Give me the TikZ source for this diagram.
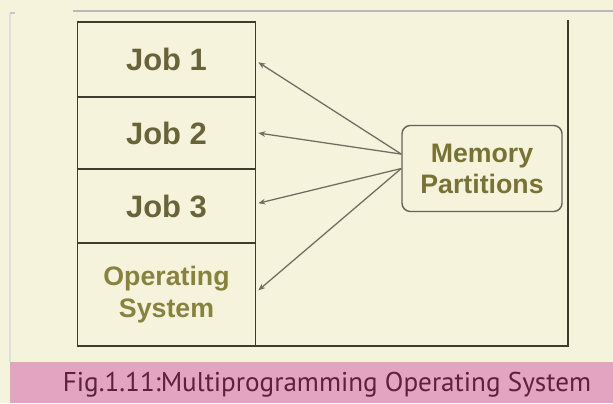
\documentclass[tikz,border=0pt]{standalone}
\usepackage{fontspec}
\setmainfont{Liberation Sans}
\newfontfamily\captionfont{PT Sans}
\usetikzlibrary{positioning,calc,arrows.meta}

\definecolor{paper}{HTML}{F5F3DC}
\definecolor{band}{HTML}{E2A4C0}
\definecolor{ink}{HTML}{3E3C2A}
\definecolor{olive}{HTML}{69633A}
\definecolor{lightolive}{HTML}{88823F}
\definecolor{captionink}{HTML}{5C2040}

\tikzset{
	jobbox/.style={draw=ink, line width=1.3pt, minimum width=4.45cm, inner sep=0pt, outer sep=0pt,
		font=\fontsize{22}{26}\selectfont\bfseries, text=olive},
	partbox/.style={draw=ink!80, line width=1pt, rounded corners=6pt, minimum width=4cm, minimum height=2.15cm,
		align=center, font=\fontsize{19}{22}\selectfont\bfseries, text=olive!90!yellow},
	pointer/.style={draw=ink!75, line width=0.9pt, -{Stealth[length=5pt,width=4pt]}}
}

\begin{document}
\begin{tikzpicture}[x=0.025cm, y=-0.025cm]
		% page and caption band
		\useasboundingbox[fill=paper] (0,0) rectangle (613,403);
		\fill[band] (10,362) rectangle (613,403);
		\draw[gray!55, line width=1.2pt] (73,11) -- (613,11);
		\draw[gray!25, line width=1pt] (10,13) -- (10,362);
		\draw[gray!45, line width=1pt] (10,13) -- (15,13);

		% memory stack
		\node[jobbox, minimum height=1.875cm] (job1) at (166.5,59.5) {Job 1};
		\node[jobbox, minimum height=1.8cm, below=0pt of job1] (job2) {Job 2};
		\node[jobbox, minimum height=1.85cm, below=0pt of job2] (job3) {Job 3};
		\node[jobbox, minimum height=2.575cm, below=0pt of job3, align=center, text=lightolive,
			font=\fontsize{19}{22.5}\selectfont\bfseries] (os) {Operating\\System};

		% outline on the right
		\draw[ink, line width=1.3pt] (os.south east) -- (568,346) -- (568,20);

		\node[partbox] (mem) at (482,168.5) {Memory\\Partitions};
		\coordinate (mtop) at ([yshift=0.36cm]mem.west);
		\coordinate (mbot) at ([yshift=0.0cm]mem.west);

		\draw[pointer] (mtop) -- ([xshift=2pt,yshift=-2pt]job1.east);
		\draw[pointer] (mtop) -- ([xshift=2pt]job2.east);
		\draw[pointer] (mbot) -- ([xshift=2pt,yshift=2pt]job3.east);
		\draw[pointer] (mbot) -- ([xshift=2pt,yshift=3pt]os.east);

		\node[font=\captionfont\fontsize{19.3}{22}\selectfont, text=captionink] (cap) at (327,385)
			{Fig.1.11:Multiprogramming Operating System};
	\end{tikzpicture}
\end{document}
